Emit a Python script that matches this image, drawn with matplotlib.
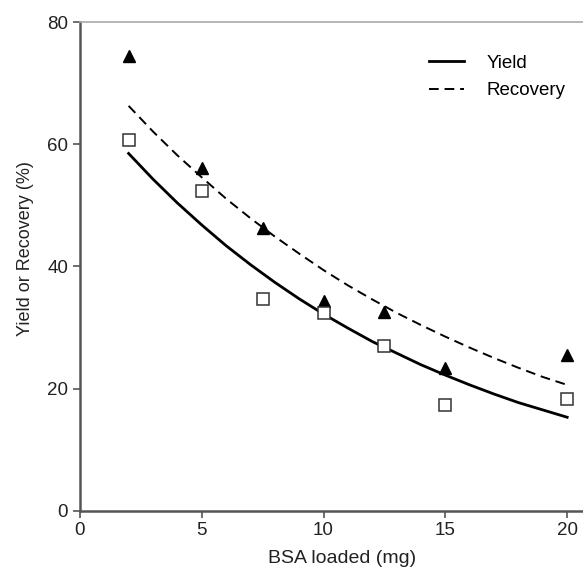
import matplotlib.pyplot as plt

plt.rcParams['font.family'] = ['Liberation Sans', 'DejaVu Sans']

# measured points
bsa = [2, 5, 7.5, 10, 12.5, 15, 20]
recovery_pts = [74.5, 56.2, 46.3, 34.4, 32.5, 23.3, 25.5]
yield_pts = [60.7, 52.4, 34.7, 32.4, 27.0, 17.3, 18.3]

# fitted curves
curve_x = [2, 3, 4, 5, 6, 7, 8, 9, 10, 11, 12, 13, 14, 15, 16, 17, 18, 19, 20]
yield_fit = [58.5, 54.3, 50.4, 46.8, 43.4, 40.3, 37.4, 34.7, 32.2, 29.9,
             27.7, 25.8, 23.9, 22.2, 20.6, 19.1, 17.7, 16.5, 15.3]
recovery_fit = [66.3, 62.1, 58.2, 54.6, 51.1, 47.9, 44.9, 42.1, 39.4, 36.9,
                34.6, 32.4, 30.4, 28.5, 26.7, 25.0, 23.4, 21.9, 20.6]

fig = plt.figure(figsize=(5.83, 5.69), dpi=100)
ax = fig.add_axes([0.137, 0.1025, 0.863, 0.8585])

ax.plot(curve_x, yield_fit, color='black', lw=2, label='Yield')
ax.plot(curve_x, recovery_fit, color='black', lw=1.4, ls=(0, (5, 3)), label='Recovery')
ax.plot(bsa, recovery_pts, '^', color='black', ms=9, ls='none')
ax.plot(bsa, yield_pts, 's', mfc='white', mec='#333333', mew=1.1, ms=8.5, ls='none')

ax.set_xlim(0, 20.65)
ax.set_ylim(0, 80)
ax.set_xticks([0, 5, 10, 15, 20])
ax.set_yticks([0, 20, 40, 60, 80])

for s in ['left', 'bottom']:
    ax.spines[s].set_color('#555555')
    ax.spines[s].set_linewidth(1.8)
ax.spines['right'].set_visible(False)
ax.spines['top'].set_color('#aaaaaa')
ax.spines['top'].set_linewidth(1.2)
ax.tick_params(direction='out', length=5, width=1.2, color='#555555',
               labelsize=13.5, labelcolor='#222222')

ax.set_xlabel('BSA loaded (mg)', fontsize=14, color='#222222')
ax.set_ylabel('Yield or Recovery (%)', fontsize=13, color='#222222')
ax.xaxis.set_label_coords(0.521, -0.081)
ax.yaxis.set_label_coords(-0.092, 0.536)

ax.legend(loc='upper left', bbox_to_anchor=(0.66, 0.968), frameon=False,
          fontsize=13.5, handlelength=1.9, handletextpad=1.2, labelspacing=0.55)

fig.savefig('out.png', dpi=100)
